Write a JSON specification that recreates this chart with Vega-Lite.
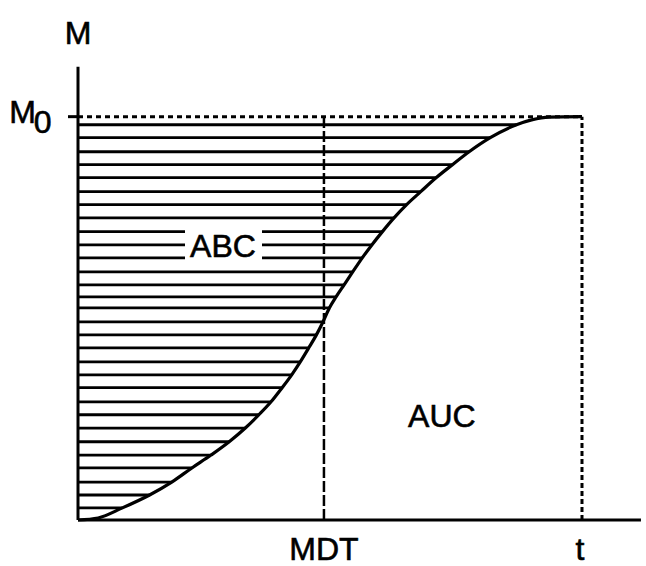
{
  "$schema": "https://vega.github.io/schema/vega-lite/v6.json",
  "width": 568,
  "height": 484,
  "autosize": {"type": "none"},
  "padding": {"left": 78, "top": 36, "right": 0, "bottom": 46},
  "background": "white",
  "config": {"view": {"stroke": null}, "axis": {"disable": true}, "text": {"font": "Liberation Sans"}},
  "datasets": {
    "hatch": [
      {"y": 0.030, "xs": 0, "xe": 0.88}, {"y": 0.062, "xs": 0, "xe": 1.42}, {"y": 0.094, "xs": 0, "xe": 1.86}, {"y": 0.129, "xs": 0, "xe": 2.26},
      {"y": 0.161, "xs": 0, "xe": 2.64}, {"y": 0.194, "xs": 0, "xe": 3.00}, {"y": 0.228, "xs": 0, "xe": 3.32}, {"y": 0.261, "xs": 0, "xe": 3.59},
      {"y": 0.293, "xs": 0, "xe": 3.83}, {"y": 0.328, "xs": 0, "xe": 4.05}, {"y": 0.360, "xs": 0, "xe": 4.24}, {"y": 0.392, "xs": 0, "xe": 4.41},
      {"y": 0.427, "xs": 0, "xe": 4.58}, {"y": 0.459, "xs": 0, "xe": 4.73}, {"y": 0.491, "xs": 0, "xe": 4.86}, {"y": 0.526, "xs": 0, "xe": 4.99},
      {"y": 0.553, "xs": 0, "xe": 5.12}, {"y": 0.583, "xs": 0, "xe": 5.28}, {"y": 0.615, "xs": 0, "xe": 5.45}, {"y": 0.650, "xs": 0, "xe": 5.64},
      {"y": 0.682, "xs": 0, "xe": 5.83}, {"y": 0.715, "xs": 0, "xe": 6.04}, {"y": 0.749, "xs": 0, "xe": 6.27}, {"y": 0.782, "xs": 0, "xe": 6.52},
      {"y": 0.814, "xs": 0, "xe": 6.80}, {"y": 0.849, "xs": 0, "xe": 7.11}, {"y": 0.881, "xs": 0, "xe": 7.43}, {"y": 0.913, "xs": 0, "xe": 7.76},
      {"y": 0.948, "xs": 0, "xe": 8.18}, {"y": 0.980, "xs": 0, "xe": 8.70}
    ],
    "curve": [
      {"x": 0, "y": 0}, {"x": 0.4, "y": 0.005}, {"x": 0.88, "y": 0.030}, {"x": 1.42, "y": 0.062},
      {"x": 1.86, "y": 0.094}, {"x": 2.26, "y": 0.129}, {"x": 2.64, "y": 0.161}, {"x": 3.00, "y": 0.194},
      {"x": 3.32, "y": 0.228}, {"x": 3.59, "y": 0.261}, {"x": 3.83, "y": 0.293}, {"x": 4.05, "y": 0.328},
      {"x": 4.24, "y": 0.360}, {"x": 4.41, "y": 0.392}, {"x": 4.58, "y": 0.427}, {"x": 4.73, "y": 0.459},
      {"x": 4.86, "y": 0.491}, {"x": 4.99, "y": 0.526}, {"x": 5.12, "y": 0.553}, {"x": 5.28, "y": 0.583},
      {"x": 5.45, "y": 0.615}, {"x": 5.64, "y": 0.650}, {"x": 5.83, "y": 0.682}, {"x": 6.04, "y": 0.715},
      {"x": 6.27, "y": 0.749}, {"x": 6.52, "y": 0.782}, {"x": 6.80, "y": 0.814}, {"x": 7.11, "y": 0.849},
      {"x": 7.43, "y": 0.881}, {"x": 7.76, "y": 0.913}, {"x": 8.18, "y": 0.948}, {"x": 8.70, "y": 0.980},
      {"x": 9.0, "y": 0.992}, {"x": 9.35, "y": 0.999}, {"x": 10, "y": 1.0}
    ],
    "labels": [
      {"x": 0, "y": 1.179, "text": "M"},
      {"x": -1.101, "y": 0.985, "text": "M"},
      {"x": -0.704, "y": 0.960, "text": "0"},
      {"x": 4.88, "y": -0.100, "text": "MDT"},
      {"x": 9.96, "y": -0.100, "text": "t"},
      {"x": 7.22, "y": 0.231, "text": "AUC"},
      {"x": 2.877, "y": 0.653, "text": "ABC"}
    ]
  },
  "layer": [
    {
      "data": {"name": "hatch"},
      "mark": {"type": "rule", "color": "black", "strokeWidth": 2.8},
      "encoding": {
        "x": {"field": "xs", "type": "quantitative", "scale": {"domain": [0, 11.27], "nice": false, "zero": false}},
        "x2": {"field": "xe"},
        "y": {"field": "y", "type": "quantitative", "scale": {"domain": [0, 1.2], "nice": false, "zero": false}}
      }
    },
    {
      "data": {"values": [{"x1": 2.123, "x2": 3.651, "y1": 0.630, "y2": 0.734}]},
      "mark": {"type": "rect", "color": "white"},
      "encoding": {
        "x": {"field": "x1", "type": "quantitative", "scale": {"domain": [0, 11.27], "nice": false, "zero": false}},
        "x2": {"field": "x2"},
        "y": {"field": "y1", "type": "quantitative", "scale": {"domain": [0, 1.2], "nice": false, "zero": false}},
        "y2": {"field": "y2"}
      }
    },
    {
      "data": {"name": "curve"},
      "mark": {"type": "line", "color": "black", "strokeWidth": 3.2, "interpolate": "monotone"},
      "encoding": {
        "x": {"field": "x", "type": "quantitative", "scale": {"domain": [0, 11.27], "nice": false, "zero": false}},
        "y": {"field": "y", "type": "quantitative", "scale": {"domain": [0, 1.2], "nice": false, "zero": false}}
      }
    },
    {
      "data": {"values": [{"x1": 0, "x2": 10, "y": 1}]},
      "mark": {"type": "rule", "color": "black", "strokeWidth": 3, "strokeDash": [5, 4]},
      "encoding": {
        "x": {"field": "x1", "type": "quantitative", "scale": {"domain": [0, 11.27], "nice": false, "zero": false}},
        "x2": {"field": "x2"},
        "y": {"field": "y", "type": "quantitative", "scale": {"domain": [0, 1.2], "nice": false, "zero": false}}
      }
    },
    {
      "data": {"values": [{"x": 4.88, "y1": 0, "y2": 1}]},
      "mark": {"type": "rule", "color": "black", "strokeWidth": 2.5, "strokeDash": [11, 3]},
      "encoding": {
        "x": {"field": "x", "type": "quantitative", "scale": {"domain": [0, 11.27], "nice": false, "zero": false}},
        "y": {"field": "y1", "type": "quantitative", "scale": {"domain": [0, 1.2], "nice": false, "zero": false}},
        "y2": {"field": "y2"}
      }
    },
    {
      "data": {"values": [{"x": 10, "y1": 0, "y2": 1}]},
      "mark": {"type": "rule", "color": "black", "strokeWidth": 3, "strokeDash": [5, 3]},
      "encoding": {
        "x": {"field": "x", "type": "quantitative", "scale": {"domain": [0, 11.27], "nice": false, "zero": false}},
        "y": {"field": "y1", "type": "quantitative", "scale": {"domain": [0, 1.2], "nice": false, "zero": false}},
        "y2": {"field": "y2"}
      }
    },
    {
      "data": {"values": [
        {"x1": 0, "x2": 0, "y1": 0, "y2": 1.124},
        {"x1": 0, "x2": 11.17, "y1": 0, "y2": 0},
        {"x1": -0.198, "x2": 0, "y1": 1, "y2": 1}
      ]},
      "mark": {"type": "rule", "color": "black", "strokeWidth": 3},
      "encoding": {
        "x": {"field": "x1", "type": "quantitative", "scale": {"domain": [0, 11.27], "nice": false, "zero": false}},
        "x2": {"field": "x2"},
        "y": {"field": "y1", "type": "quantitative", "scale": {"domain": [0, 1.2], "nice": false, "zero": false}},
        "y2": {"field": "y2"}
      }
    },
    {
      "data": {"name": "labels"},
      "mark": {"type": "text", "color": "black", "fontSize": 32, "align": "center", "baseline": "alphabetic", "stroke": "black", "strokeWidth": 0.6},
      "encoding": {
        "x": {"field": "x", "type": "quantitative", "scale": {"domain": [0, 11.27], "nice": false, "zero": false}},
        "y": {"field": "y", "type": "quantitative", "scale": {"domain": [0, 1.2], "nice": false, "zero": false}},
        "text": {"field": "text"}
      }
    }
  ]
}
